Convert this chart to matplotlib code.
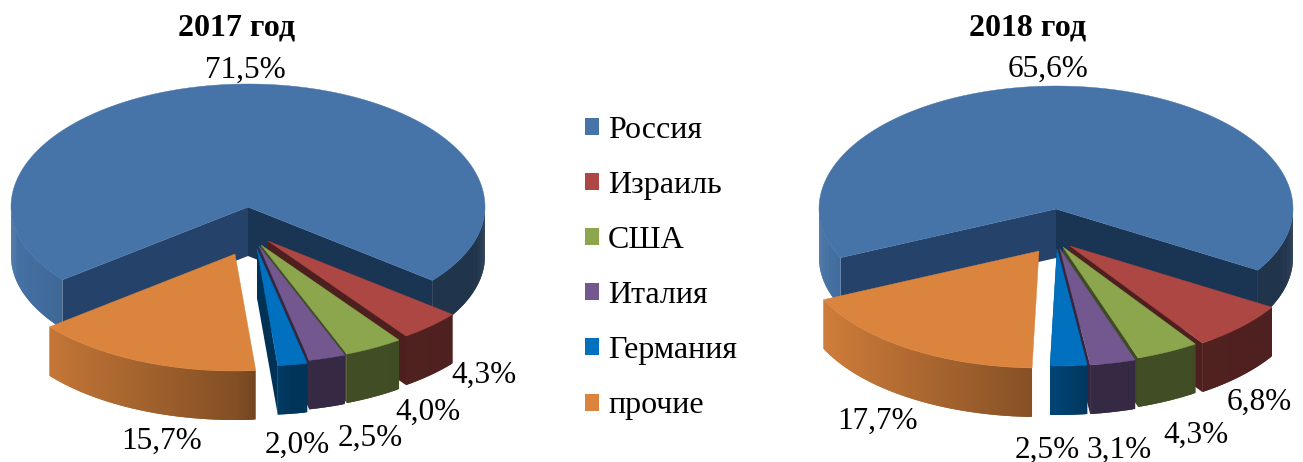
import numpy as np
import matplotlib
matplotlib.use("Agg")
import matplotlib.pyplot as plt
from matplotlib.patches import Polygon, Patch

plt.rcParams['font.family'] = ['Liberation Serif', 'DejaVu Serif']

categories = ["Россия", "Израиль", "США", "Италия", "Германия", "прочие"]
values_2017 = [71.5, 4.3, 4.0, 2.5, 2.0, 15.7]
values_2018 = [65.6, 6.8, 4.3, 3.1, 2.5, 17.7]
title_2017 = "2017 год"
title_2018 = "2018 год"

colors = ["#4674A8", "#AC4744", "#8CA64E", "#72588F", "#0170BF", "#DB843D"]

# how far each slice is pulled out of the pie, in pixels
pull_2017 = [(0, 0), (20, 34), (13, 38), (11, 39), (9, 42), (-13, 47)]
pull_2018 = [(0, 0), (14, 37), (7, 38), (4, 40), (1, 40), (-17, 42)]

RX, RY_BACK, RY_FRONT, DEPTH = 237, 123, 117, 49


def shade(hex_color, f):
    rgb = np.array(matplotlib.colors.to_rgb(hex_color))
    return tuple(np.clip(rgb * f, 0, 1))


def wall_factor(c):
    return np.interp(c, [-1, -0.8, 0, 0.15, 1], [0.98, 0.9, 0.6, 0.47, 0.45])


def ellipse_pts(cx, cy, ang_deg):
    a = np.radians(ang_deg)
    s = np.sin(a)
    ry = np.where(s >= 0, RY_BACK, RY_FRONT)
    return cx + RX * np.cos(a), cy - ry * s


def draw_slice(ax, cx, cy, a0, a1, color, left_wall, right_wall, z):
    # a0 > a1: clockwise sweep in degrees
    angs = np.linspace(a0, a1, max(int(abs(a1 - a0) * 2), 4))
    x, y = ellipse_pts(cx, cy, angs)
    if left_wall is not None:
        ax.add_patch(Polygon([(cx, cy), (x[0], y[0]), (x[0], y[0] + DEPTH), (cx, cy + DEPTH)],
                             fc=left_wall, ec="none", zorder=z))
        ax.add_patch(Polygon([(cx, cy), (x[-1], y[-1]), (x[-1], y[-1] + DEPTH), (cx, cy + DEPTH)],
                             fc=right_wall, ec="none", zorder=z))
    # outer wall, strip by strip; every strip overlaps the next to hide seams
    n = len(angs)
    for i in range(n - 1):
        m = np.radians((angs[i] + angs[i + 1]) / 2)
        if np.sin(m) > 0:
            continue
        j = min(i + 2, n - 1)
        col = shade(color, wall_factor(np.cos(m)))
        xs = np.r_[x[i:j + 1], x[i:j + 1][::-1]]
        ys = np.r_[y[i:j + 1], (y[i:j + 1] + DEPTH)[::-1]]
        ax.add_patch(Polygon(np.column_stack([xs, ys]), fc=col, ec="none",
                             zorder=z + 0.1 + i * 1e-4))
    ax.add_patch(Polygon(np.column_stack([np.r_[cx, x], np.r_[cy, y]]),
                         fc=color, ec=color, lw=0.3, zorder=z + 0.2))


def draw_pie(ax, cx, cy, values, start, pulls):
    sweeps = np.array(values) / sum(values) * 360
    edges = start - np.r_[0, np.cumsum(sweeps)]
    draw_slice(ax, cx, cy, edges[0], edges[1], colors[0], "#24426A", "#1A3553", 1)
    last = len(values) - 1
    for i in range(1, len(values)):
        dark = None if i == last else shade(colors[i], 0.45)
        draw_slice(ax, cx + pulls[i][0], cy + pulls[i][1], edges[i], edges[i + 1],
                   colors[i], dark, dark, 2 + i)


fig = plt.figure(figsize=(13.03, 4.62), dpi=100)
ax = fig.add_axes([0, 0, 1, 1])
ax.set_xlim(0, 1303)
ax.set_ylim(462, 0)
ax.axis("off")

draw_pie(ax, 248, 207, values_2017, 218.5, pull_2017)
draw_pie(ax, 1056, 209, values_2018, 204.6, pull_2018)

TXT = 22.5
ax.text(237, 28, title_2017, ha="center", va="center", fontsize=23, fontweight="bold", color="black")
ax.text(1028, 28, title_2018, ha="center", va="center", fontsize=23, fontweight="bold", color="black")


def fmt(v):
    return f"{v:.1f}%".replace(".", ",")


pos_2017 = [(245, 70), (484, 375), (428, 412), (370, 438), (297, 445), (162, 441)]
pos_2018 = [(1048, 69), (1259, 402), (1196, 435), (1119, 450), (1047, 450), (878, 421)]
for vals, pos in ((values_2017, pos_2017), (values_2018, pos_2018)):
    for v, (px, py) in zip(vals, pos):
        ax.text(px, py, fmt(v), ha="center", va="center", fontsize=TXT, color="black", zorder=20)

handles = [Patch(fc=c, ec=c, lw=0) for c in colors]
ax.legend(handles, categories, loc="center left", bbox_to_anchor=(585 / 1303, 1 - 268 / 462),
          bbox_transform=fig.transFigure, frameon=False, fontsize=23, labelspacing=0.82,
          handlelength=0.44, handleheight=0.44, handletextpad=0.28, borderpad=0, borderaxespad=0)

fig.savefig("out.png", dpi=100)
